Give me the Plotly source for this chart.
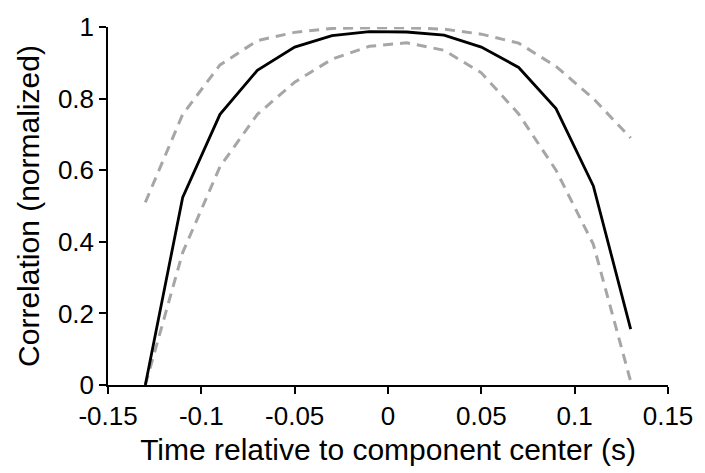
import plotly.graph_objects as go

# Lag times (s) relative to the component center
time_s = [-0.13, -0.11, -0.09, -0.07, -0.05, -0.03, -0.01,
          0.01, 0.03, 0.05, 0.07, 0.09, 0.11, 0.13]

# Mean normalized correlation and its upper / lower bounds
corr_mean = [0.0, 0.524, 0.756, 0.879, 0.944, 0.976, 0.987,
             0.986, 0.977, 0.944, 0.887, 0.772, 0.556, 0.156]
corr_upper = [0.510, 0.756, 0.894, 0.962, 0.985, 0.996, 0.998,
              0.998, 0.994, 0.980, 0.955, 0.890, 0.800, 0.690]
corr_lower = [0.0, 0.370, 0.610, 0.756, 0.846, 0.910, 0.946,
              0.956, 0.935, 0.872, 0.757, 0.600, 0.393, 0.010]

x_ticks = [-0.15, -0.1, -0.05, 0, 0.05, 0.1, 0.15]
x_tick_text = ["-0.15", "-0.1", "-0.05", "0", "0.05", "0.1", "0.15"]
y_ticks = [0, 0.2, 0.4, 0.6, 0.8, 1]
y_tick_text = ["0", "0.2", "0.4", "0.6", "0.8", "1"]

gray = "#a6a6a6"
dash = "10px,7px"

fig = go.Figure()
fig.add_trace(go.Scatter(x=time_s, y=corr_upper, mode="lines",
                         line=dict(color=gray, width=3, dash=dash),
                         showlegend=False, cliponaxis=False))
fig.add_trace(go.Scatter(x=time_s, y=corr_lower, mode="lines",
                         line=dict(color=gray, width=3, dash=dash),
                         showlegend=False, cliponaxis=False))
fig.add_trace(go.Scatter(x=time_s, y=corr_mean, mode="lines",
                         line=dict(color="black", width=2.8),
                         showlegend=False, cliponaxis=False))

family = "Liberation Sans, Arial, sans-serif"

fig.update_layout(
    width=705, height=473,
    margin=dict(l=108, r=30, t=16, b=88),
    paper_bgcolor="white", plot_bgcolor="white",
    font=dict(family=family, size=26, color="black"),
    xaxis=dict(range=[-0.15, 0.15], tickvals=x_ticks, ticktext=x_tick_text,
               tickfont=dict(size=26),
               showgrid=False, zeroline=False, showline=True,
               linecolor="black", linewidth=1.5,
               ticks="outside", ticklen=7, tickwidth=1.5, tickcolor="black",
               title=dict(text="Time relative to component center (s)",
                          font=dict(size=30), standoff=9)),
    yaxis=dict(range=[0, 1], tickvals=y_ticks, ticktext=y_tick_text,
               tickfont=dict(size=26),
               showgrid=False, zeroline=False, showline=True,
               linecolor="black", linewidth=1.5,
               ticks="outside", ticklen=7, tickwidth=1.5, tickcolor="black",
               title=dict(text="Correlation (normalized)",
                          font=dict(size=30), standoff=9)),
)

fig.write_html("out.html")
